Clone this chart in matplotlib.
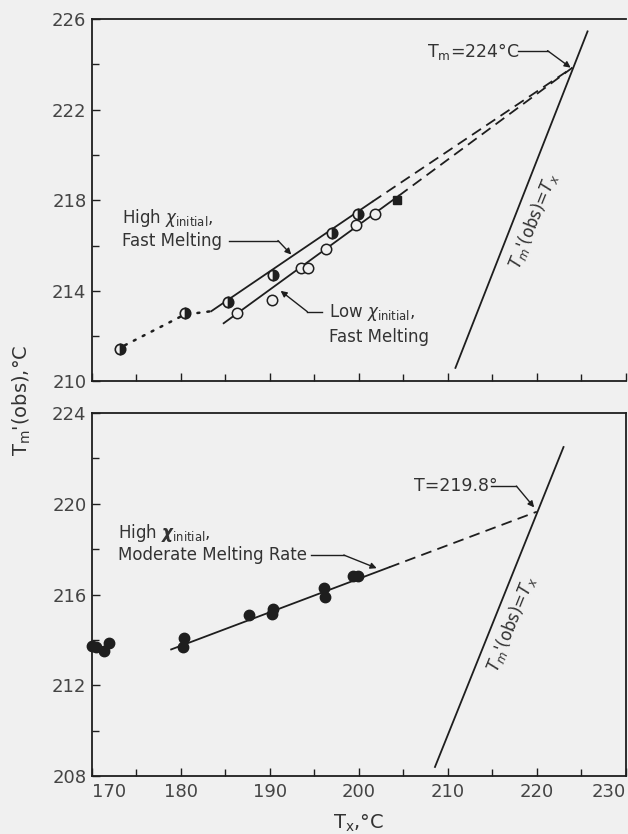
import matplotlib.pyplot as plt
from matplotlib.ticker import MultipleLocator, FixedLocator

# Top panel: fast melting
high_fast_x = [173.1, 180.4, 185.3, 190.3, 197.0, 199.9]
high_fast_y = [211.45, 213.0, 213.5, 214.7, 216.55, 217.4]
low_fast_x = [186.3, 190.2, 193.5, 194.3, 196.35, 199.7, 201.8]
low_fast_y = [213.0, 213.6, 215.0, 215.0, 215.85, 216.9, 217.4]
square_x = [204.3]
square_y = [218.0]

# fitted lines: solid part then dashed extrapolation
high_fit_x = [183.4, 201.5, 224.0]
high_fit_y = [213.1, 217.93, 223.85]
low_fit_x = [184.8, 204.5, 224.0]
low_fit_y = [212.57, 218.2, 223.85]
dotted_x = [173.7, 180.4, 183.4]
dotted_y = [211.6, 212.95, 213.1]
eq_top_x = [210.85, 225.7]
eq_top_y = [210.6, 225.45]

# Bottom panel: moderate melting rate
moderate_x = [170.0, 170.5, 171.3, 171.9, 180.2, 180.3, 187.6, 190.2, 190.4,
              196.1, 196.2, 199.3, 199.9]
moderate_y = [213.75, 213.7, 213.5, 213.85, 213.7, 214.1, 215.1, 215.15, 215.35,
              216.3, 215.9, 216.8, 216.8]
mod_fit_x = [178.9, 203.4, 220.0]
mod_fit_y = [213.58, 217.2, 219.65]
eq_bot_x = [208.55, 223.0]
eq_bot_y = [208.4, 222.5]

top_yticks = [210, 214, 218, 222, 226]
bot_yticks = [208, 212, 216, 220, 224]
x_ticks = [170, 180, 190, 200, 210, 220, 230]

bg = '#f0f0f0'
ink = '#1e1e1e'
txt = '#333333'
plt.rcParams['font.family'] = 'DejaVu Sans'

fig = plt.figure(figsize=(6.28, 8.34), dpi=100, facecolor=bg)
ax1 = fig.add_axes([0.1465, 0.5426, 0.850, 0.4347], facecolor=bg)
ax2 = fig.add_axes([0.1465, 0.0695, 0.850, 0.4353], facecolor=bg)


def style(ax, ymin, ymax, yticks, xlabels):
    ax.set_xlim(170, 230)
    ax.set_ylim(ymin, ymax)
    ax.xaxis.set_major_locator(FixedLocator(x_ticks))
    ax.xaxis.set_minor_locator(MultipleLocator(5))
    ax.yaxis.set_major_locator(FixedLocator(yticks))
    ax.yaxis.set_minor_locator(MultipleLocator(2))
    ax.tick_params(which='both', direction='in', top=False, right=False,
                   color=ink, width=1.0, labelsize=13, labelcolor='#444444')
    ax.tick_params(which='major', length=6)
    ax.tick_params(which='minor', length=5)
    ax.tick_params(axis='x', pad=5, labelbottom=xlabels)
    ax.tick_params(axis='y', pad=4)
    for s in ax.spines.values():
        s.set_color(ink)
        s.set_linewidth(1.3)


style(ax1, 210, 226, top_yticks, False)
style(ax2, 208, 224, bot_yticks, True)
ax1.spines['right'].set_visible(False)

xlabs = ax2.get_xticklabels()
xlabs[0].set_ha('left')
xlabs[-1].set_ha('right')

lw = 1.3
dash = (6, 3.5)

# ---- top panel ----
ax1.plot(high_fit_x[:2], high_fit_y[:2], color=ink, lw=lw)
ax1.plot(high_fit_x[1:], high_fit_y[1:], color=ink, lw=lw, dashes=dash)
ax1.plot(low_fit_x[:2], low_fit_y[:2], color=ink, lw=lw)
ax1.plot(low_fit_x[1:], low_fit_y[1:], color=ink, lw=lw, dashes=dash)
ax1.plot(dotted_x, dotted_y, color=ink, lw=1.8, linestyle=(0, (0.8, 3.2)),
         dash_capstyle='round')
ax1.plot(eq_top_x, eq_top_y, color=ink, lw=lw)

ax1.plot(high_fast_x, high_fast_y, 'o', ms=7.5, mec=ink, mew=1.2,
         mfc=ink, fillstyle='right', markerfacecoloralt=bg, zorder=5)
ax1.plot(low_fast_x, low_fast_y, 'o', ms=7.5, mec=ink, mew=1.1,
         mfc=bg, zorder=5)
ax1.plot(square_x, square_y, 's', ms=6, color=ink, zorder=5)

arrow = dict(arrowstyle='-|>', color=ink, lw=1.0, shrinkA=0, shrinkB=0,
             mutation_scale=9)

ax1.text(207.6, 224.55, r'T$_\mathrm{m}$=224°C', fontsize=12.5, color=txt,
         va='center', ha='left')
ax1.plot([217.9, 221.2], [224.6, 224.6], color=ink, lw=1.0)
ax1.annotate('', xy=(223.8, 223.85), xytext=(221.2, 224.6), arrowprops=arrow)

ax1.text(173.35, 217.2, r'High $\chi_{\mathrm{initial}}$,', fontsize=12,
         color=txt, va='center', ha='left')
ax1.text(173.35, 216.2, 'Fast Melting', fontsize=12, color=txt,
         va='center', ha='left')
ax1.plot([185.4, 190.9], [216.22, 216.22], color=ink, lw=1.0)
ax1.annotate('', xy=(192.4, 215.6), xytext=(190.9, 216.22), arrowprops=arrow)

ax1.text(196.6, 213.05, r'Low $\chi_{\mathrm{initial}}$,', fontsize=12,
         color=txt, va='center', ha='left')
ax1.text(196.6, 211.98, 'Fast Melting', fontsize=12, color=txt,
         va='center', ha='left')
ax1.plot([194.2, 195.9], [213.08, 213.08], color=ink, lw=1.0)
ax1.annotate('', xy=(191.2, 214.0), xytext=(194.2, 213.08), arrowprops=arrow)

ax1.text(219.6, 217.1, r"$T_m$'(obs)=$T_x$", fontsize=12, color=txt,
         rotation=68, ha='center', va='center', rotation_mode='anchor')

# ---- bottom panel ----
ax2.plot(mod_fit_x[:2], mod_fit_y[:2], color=ink, lw=lw)
ax2.plot(mod_fit_x[1:], mod_fit_y[1:], color=ink, lw=lw, dashes=dash)
ax2.plot(eq_bot_x, eq_bot_y, color=ink, lw=lw)
ax2.plot(moderate_x, moderate_y, 'o', ms=7.5, color=ink, zorder=5,
         clip_on=False)

ax2.text(206.2, 220.78, 'T=219.8°', fontsize=12.5, color=txt,
         va='center', ha='left')
ax2.plot([214.8, 217.7], [220.78, 220.78], color=ink, lw=1.0)
ax2.annotate('', xy=(219.7, 219.84), xytext=(217.7, 220.78), arrowprops=arrow)

ax2.text(172.9, 218.7, r'High $\boldsymbol{\chi}_{\mathrm{initial}}$,',
         fontsize=12, color=txt, va='center', ha='left')
ax2.text(172.9, 217.74, 'Moderate Melting Rate', fontsize=12, color=txt,
         va='center', ha='left')
ax2.plot([194.6, 198.3], [217.74, 217.74], color=ink, lw=1.0)
ax2.annotate('', xy=(202.0, 217.16), xytext=(198.3, 217.74), arrowprops=arrow)

ax2.text(217.1, 214.7, r"$T_m$'(obs)=$T_x$", fontsize=12, color=txt,
         rotation=68, ha='center', va='center', rotation_mode='anchor')

# axis titles
fig.text(0.035, 0.52, r"T$_\mathrm{m}$'(obs),°C", rotation=90, fontsize=14,
         color=txt, ha='center', va='center')
fig.text(359 / 628, 1 - 823 / 834, r"T$_\mathrm{x}$,°C", fontsize=14,
         color=txt, ha='center', va='center')

fig.savefig('out.png', dpi=100, facecolor=bg)
